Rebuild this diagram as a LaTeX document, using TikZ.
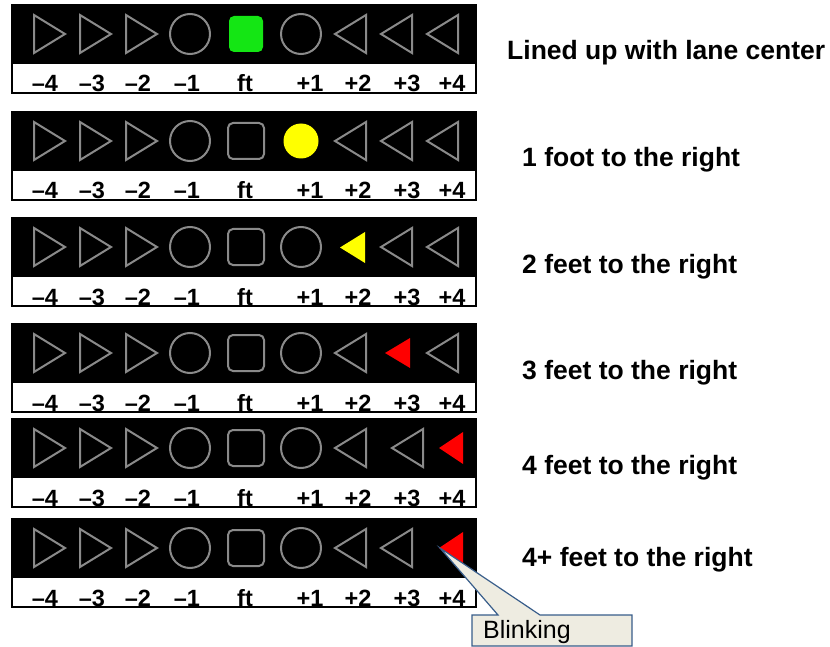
\documentclass[tikz,border=0pt]{standalone}
\usepackage{fontspec}
\setmainfont{Liberation Sans}
\definecolor{ledgray}{RGB}{138,138,138}
\definecolor{ledgreen}{RGB}{20,230,20}
\definecolor{ledyellow}{RGB}{255,255,0}
\definecolor{ledred}{RGB}{255,0,0}
\definecolor{callfill}{RGB}{238,236,225}
\definecolor{callline}{RGB}{56,93,138}
\tikzset{
  ledline/.style={draw=ledgray,line width=2pt,line join=miter},
  scalelbl/.style={anchor=base,inner sep=0pt,font=\fontsize{23.5}{26}\selectfont\bfseries},
  caption/.style={anchor=west,inner sep=0pt,font=\fontsize{26.5}{30}\selectfont\bfseries},
  frame/.style={draw=black,line width=1.2pt}
}
% right-pointing outline triangle: left x, centre y
\newcommand\rtri[2]{\draw[ledline] (#1,#2-19) -- (#1+31,#2) -- (#1,#2+19) -- cycle;}
% left-pointing outline triangle
\newcommand\ltri[2]{\draw[ledline] (#1+31,#2-19) -- (#1,#2) -- (#1+31,#2+19) -- cycle;}
\newcommand\lcirc[2]{\draw[ledline] (#1,#2) circle[radius=20];}
\newcommand\lsq[1]{\draw[ledline,rounded corners=5pt] (228,#1-18) rectangle (264,#1+18);}
\newcommand\panelbase[2]{%
  \fill[black] (12,#1) rectangle (476,#1+58);
  \fill[white] (12,#1+58) rectangle (476,#1+88);
  \draw[frame] (12,#1) rectangle (476,#1+88);
  \draw[frame] (12,#1+58) -- (476,#1+58);
  \rtri{34}{#1+29}\rtri{80}{#1+29}\rtri{126}{#1+29}
  \lcirc{190}{#1+29}
  \node[scalelbl] (#2m4) at (45,#1+87) {–4};
  \node[scalelbl] (#2m3) at (92,#1+87) {–3};
  \node[scalelbl] (#2m2) at (138,#1+87) {–2};
  \node[scalelbl] (#2m1) at (187,#1+87) {–1};
  \node[scalelbl] (#2ft) at (245,#1+87) {ft};
  \node[scalelbl] (#2p1) at (310,#1+87) {+1};
  \node[scalelbl] (#2p2) at (358,#1+87) {+2};
  \node[scalelbl] (#2p3) at (407,#1+87) {+3};
  \node[scalelbl] (#2p4) at (452,#1+87) {+4};
}
\begin{document}
\begin{tikzpicture}[x=1pt,y=-1pt]
\useasboundingbox (0,0) rectangle (830,647);
% Panel 1
\panelbase{5}{a}
\fill[ledgreen,rounded corners=5pt] (229,16) rectangle (263,52);
\lcirc{301}{34}\ltri{335}{34}\ltri{381}{34}\ltri{427}{34}
\node[caption] (ta) at (507,53) {Lined up with lane center};
% Panel 2
\panelbase{112}{b}
\lsq{141}
\fill[ledyellow] (301,141) circle[radius=17.5];
\ltri{335}{141}\ltri{381}{141}\ltri{427}{141}
\node[caption] (tb) at (522,160) {1 foot to the right};
% Panel 3
\panelbase{218}{c}
\lsq{247}\lcirc{301}{247}
\fill[ledyellow] (365,232) -- (340,247.5) -- (365,263) -- cycle;
\ltri{381}{247}\ltri{427}{247}
\node[caption] (tc) at (522,267) {2 feet to the right};
% Panel 4
\panelbase{324}{d}
\lsq{353}\lcirc{301}{353}\ltri{335}{353}
\fill[ledred] (410,338) -- (385,353) -- (410,368) -- cycle;
\ltri{427}{353}
\node[caption] (td) at (522,373) {3 feet to the right};
% Panel 5
\panelbase{419}{e}
\lsq{448}\lcirc{301}{448}\ltri{335}{448}\ltri{392}{448}
\fill[ledred] (463,432) -- (439,448) -- (463,464) -- cycle;
\node[caption] (te) at (522,468) {4 feet to the right};
% Panel 6
\panelbase{519}{f}
\lsq{548}\lcirc{301}{548}\ltri{335}{548}\ltri{381}{548}
\fill[ledred] (463,532) -- (439,548) -- (463,565) -- cycle;
\node[caption] (tf) at (522,560) {4+ feet to the right};
% Callout
\coordinate (tip) at (440,548);
\filldraw[fill=callfill,draw=callline,line width=1.2pt,line join=miter]
  (472,615) -- (498,615) -- (tip) -- (540,615) -- (632,615) -- (632,646) -- (472,646) -- cycle;
\node[anchor=west,inner sep=0pt,font=\fontsize{25}{28}\selectfont] (blink) at (483,632) {Blinking};
\end{tikzpicture}
\end{document}
